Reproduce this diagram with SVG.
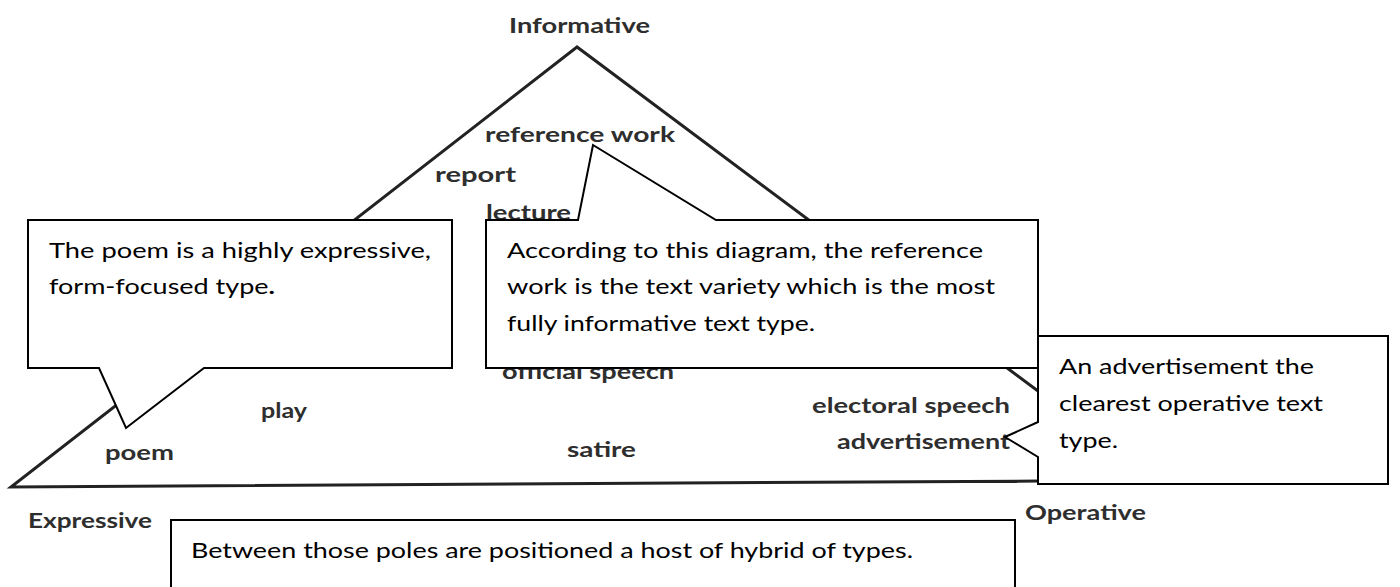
<svg xmlns="http://www.w3.org/2000/svg" width="1400" height="587" viewBox="0 0 1400 587">
<style>
.lbl{font-family:Lato,"Liberation Sans",sans-serif;font-weight:bold;font-size:21px;fill:#2e2e2e}
.co{fill:#fff;stroke:#000;stroke-width:2}
.ct{font-family:Lato,"Liberation Sans",sans-serif;font-size:21.5px;fill:#000}
</style>
<rect width="1400" height="587" fill="#fff"/>
<g id="triangle">
<path d="M577,47 L11,487 L1040,481 L1160,482 Z" fill="none" stroke="#222" stroke-width="3" stroke-linejoin="miter"/>
</g>
<g id="labels">
<text class="lbl" x="509" y="33" textLength="141" lengthAdjust="spacingAndGlyphs">Informative</text>
<text class="lbl" x="485" y="142" textLength="190" lengthAdjust="spacingAndGlyphs">reference work</text>
<text class="lbl" x="435" y="182" textLength="81" lengthAdjust="spacingAndGlyphs">report</text>
<text class="lbl" x="486" y="220" textLength="85" lengthAdjust="spacingAndGlyphs">lecture</text>
<text class="lbl" x="502" y="379" textLength="172" lengthAdjust="spacingAndGlyphs">official speech</text>
<text class="lbl" x="261" y="418" textLength="46" lengthAdjust="spacingAndGlyphs">play</text>
<text class="lbl" x="105" y="460" textLength="69" lengthAdjust="spacingAndGlyphs">poem</text>
<text class="lbl" x="567" y="457" textLength="69" lengthAdjust="spacingAndGlyphs">satire</text>
<text class="lbl" x="812" y="413" textLength="198" lengthAdjust="spacingAndGlyphs">electoral speech</text>
<text class="lbl" x="837" y="449" textLength="173" lengthAdjust="spacingAndGlyphs">advertisement</text>
<text class="lbl" x="28" y="528" textLength="124" lengthAdjust="spacingAndGlyphs">Expressive</text>
<text class="lbl" x="1025" y="520" textLength="121" lengthAdjust="spacingAndGlyphs">Operative</text>
</g>
<g id="callout-poem">
<path class="co" d="M28,220 H452 V368 H204 L126,428 L99,368 H28 Z"/>
<text class="ct" x="49" y="258" textLength="382" lengthAdjust="spacingAndGlyphs">The poem is a highly expressive,</text>
<text class="ct" x="49" y="294" textLength="226" lengthAdjust="spacingAndGlyphs">form-focused type<tspan font-weight="bold">.</tspan></text>
</g>
<g id="callout-reference">
<path class="co" d="M486,220 H578 L593,145 L716,220 H1038 V368 H486 Z"/>
<text class="ct" x="507" y="258" textLength="476" lengthAdjust="spacingAndGlyphs">According to this diagram, the reference</text>
<text class="ct" x="507" y="294" textLength="488" lengthAdjust="spacingAndGlyphs">work is the text variety which is the most</text>
<text class="ct" x="507" y="331" textLength="308" lengthAdjust="spacingAndGlyphs">fully informative text type.</text>
</g>
<g id="callout-advertisement">
<path class="co" d="M1038,336 H1388 V484 H1038 V457 L1005,437 L1038,422 Z"/>
<text class="ct" x="1059" y="374" textLength="255" lengthAdjust="spacingAndGlyphs">An advertisement the</text>
<text class="ct" x="1059" y="411" textLength="264" lengthAdjust="spacingAndGlyphs">clearest operative text</text>
<text class="ct" x="1059" y="448" textLength="59" lengthAdjust="spacingAndGlyphs">type.</text>
</g>
<g id="callout-hybrid">
<rect class="co" x="171" y="520" width="844" height="90"/>
<text class="ct" x="191" y="558" textLength="722" lengthAdjust="spacingAndGlyphs">Between those poles are positioned a host of hybrid of types.</text>
</g>
<g id="connectors"></g>
</svg>
